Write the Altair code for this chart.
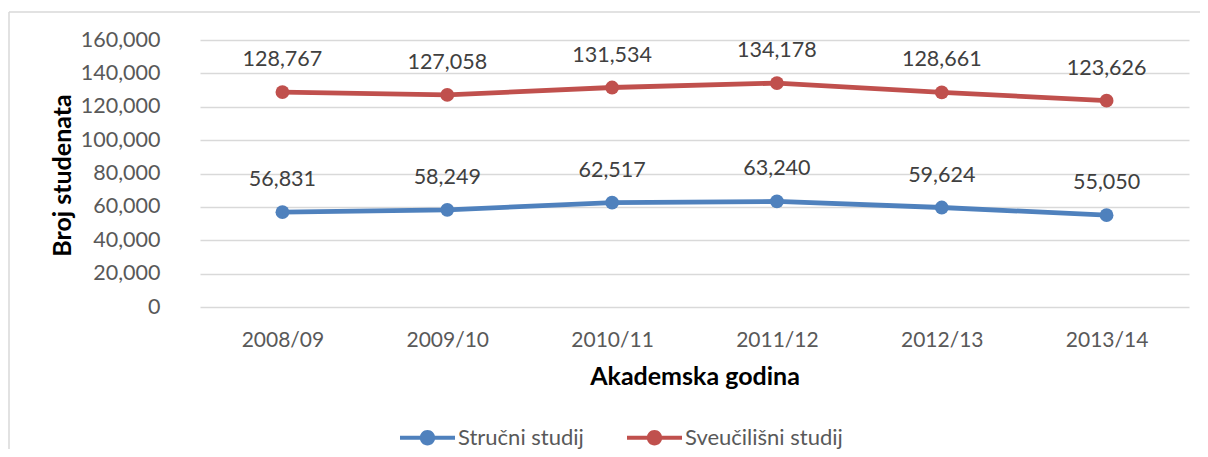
import altair as alt
import pandas as pd

years = ["2008/09", "2009/10", "2010/11", "2011/12", "2012/13", "2013/14"]
strucni = [56831, 58249, 62517, 63240, 59624, 55050]
sveucilisni = [128767, 127058, 131534, 134178, 128661, 123626]
series_names = ["Stručni studij", "Sveučilišni studij"]
series_colors = ["#4F81BD", "#C0504D"]
y_ticks = [0, 20000, 40000, 60000, 80000, 100000, 120000, 140000, 160000]

rows = []
for y, a, b in zip(years, strucni, sveucilisni):
    rows.append({"godina": y, "serija": series_names[0], "broj": a})
    rows.append({"godina": y, "serija": series_names[1], "broj": b})
df = pd.DataFrame(rows)

FONT = "Lato"
x_enc = alt.X("godina:N", sort=years,
              axis=alt.Axis(title="Akademska godina", labelAngle=0, domain=False, ticks=False,
                            grid=False, labelPadding=22, labelFontSize=21, labelColor="#595959",
                            labelFont=FONT, titleFont=FONT, titleFontSize=25, titleFontWeight="bold",
                            titleColor="#000000", titleY=69, titleBaseline="middle"))
y_enc = alt.Y("broj:Q", scale=alt.Scale(domain=[0, 160000]),
              axis=alt.Axis(title="Broj studenata", format=",d", values=y_ticks, tickCount=20,
                            domain=False, ticks=False, gridColor="#D9D9D9", gridWidth=1.5,
                            labelOverlap=False,
                            labelPadding=40, labelFontSize=21.5, labelColor="#595959", labelFont=FONT,
                            titleFont=FONT, titleFontSize=25, titleFontWeight="bold", titleColor="#000000",
                            titleX=-138, titleY=135, titleAngle=-90, titleBaseline="middle",
                            titleAlign="center"))

color_scale = alt.Scale(domain=series_names, range=series_colors)

legend_path = ("M-1,-0.075 L-0.24,-0.075 L-0.24,0.075 L-1,0.075 Z "
               "M0.24,-0.075 L1,-0.075 L1,0.075 L0.24,0.075 Z "
               "M0.28,0 A0.28,0.28 0 1,1 -0.28,0 A0.28,0.28 0 1,1 0.28,0 Z")

base = alt.Chart(df)

points = base.mark_point(filled=True, size=190, opacity=1).encode(
    x=x_enc, y=y_enc,
    color=alt.Color("serija:N", scale=color_scale,
                    legend=alt.Legend(title=None, orient="none", direction="horizontal",
                                      legendX=200, legendY=370, symbolType=legend_path,
                                      symbolSize=3025, symbolStrokeWidth=0, symbolOpacity=1,
                                      labelFont=FONT, labelFontSize=22, labelColor="#595959",
                                      labelOffset=3, columnPadding=43)),
)

lines = base.mark_line(strokeWidth=4.8).encode(
    x=x_enc, y=y_enc,
    color=alt.Color("serija:N", scale=color_scale),
)

labels = base.mark_text(dy=-32, fontSize=21.5, font=FONT, color="#404040").encode(
    x=x_enc, y=y_enc,
    text=alt.Text("broj:Q", format=",d"),
)

border_df = pd.DataFrame({"a": [0]})
border_left = alt.Chart(border_df).mark_rule(stroke="#D9D9D9", strokeWidth=1.5).encode(
    x=alt.value(-191), y=alt.value(-28), y2=alt.value(430),
)
border_top = alt.Chart(border_df).mark_rule(stroke="#D9D9D9", strokeWidth=1.5).encode(
    x=alt.value(-191), x2=alt.value(1010), y=alt.value(-28),
)

chart = alt.layer(border_left, border_top, points, lines, labels).properties(
    width=989, height=267,
    padding={"left": 192, "top": 32, "right": 11, "bottom": 142},
    autosize=alt.AutoSizeParams(type="none"),
    background="white",
).configure_view(stroke=None)

chart.save("out.html", embed_options={"renderer": "svg", "actions": False})
